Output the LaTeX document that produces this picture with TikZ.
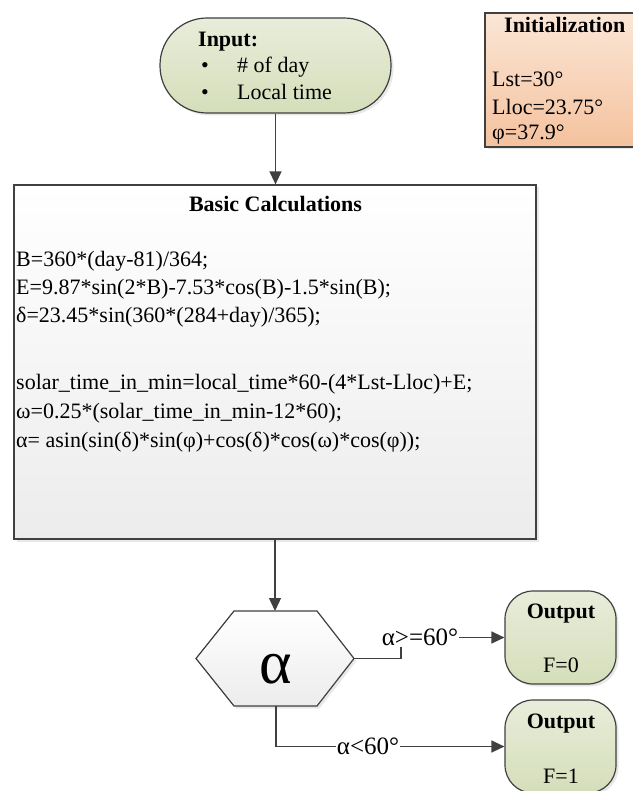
\documentclass[tikz,border=0pt]{standalone}
\usepackage{fontspec}
\setmainfont{Liberation Serif}
\usetikzlibrary{arrows.meta,shadows}
\definecolor{edge}{HTML}{404040}
\definecolor{greentop}{HTML}{E8EDDA}
\definecolor{greenbot}{HTML}{D5DEBA}
\definecolor{peachtop}{HTML}{FBE6D6}
\definecolor{peachbot}{HTML}{F4C29E}
\definecolor{graybot}{HTML}{ECECEC}
\tikzset{
  shapebox/.style={draw=edge, line width=1.2pt, inner sep=0pt,
    drop shadow={opacity=0.18, shadow xshift=2.5pt, shadow yshift=-2.5pt}},
  greenbox/.style={shapebox, top color=greentop, bottom color=greenbot},
  txt/.style={inner sep=0pt, font=\fontsize{22}{27}\selectfont, text=black},
  btxt/.style={inner sep=0pt, font=\fontsize{22}{27}\selectfont\bfseries, text=black},
  conn/.style={draw=edge, line width=1.3pt},
  arr/.style={conn, -{Triangle[length=13pt,width=12pt]}},
  lab/.style={inner sep=1pt, font=\fontsize{25}{30}\selectfont, fill=white, text=black},
}
\begin{document}
\begin{tikzpicture}[x=1pt,y=-1pt]
\useasboundingbox (0,0) rectangle (632,791);

% Input
\node[greenbox, rounded corners=47pt, minimum width=231pt, minimum height=95pt] (inp) at (275.5,65.5) {};
\node[btxt, anchor=base west] (inpT) at (198,47) {Input:};
\node[txt, anchor=base west] (b1) at (201,73) {•};
\node[txt, anchor=base west] (i1) at (237,73) {\# of day};
\node[txt, anchor=base west] (b2) at (201,100) {•};
\node[txt, anchor=base west] (i2) at (237,100) {Local time};

% Initialization
\node[shapebox, top color=peachtop, bottom color=peachbot, minimum width=180pt, minimum height=134pt] (init) at (575,80) {};
\node[btxt, anchor=base west] (initT) at (504,33) {Initialization};
\node[txt, anchor=base west] (n1) at (492,87) {Lst=30°};
\node[txt, anchor=base west] (n2) at (492,115) {Lloc=23.75°};
\node[txt, anchor=base west] (n3) at (492,140) {φ=37.9°};

% Basic calculations
\node[shapebox, top color=white, bottom color=graybot, minimum width=522pt, minimum height=354pt] (basic) at (275,362) {};
\node[btxt, anchor=base] (basT) at (275.5,212) {Basic Calculations};
\node[txt, anchor=base west] (c1) at (16,266) {B=360*(day-81)/364;};
\node[txt, anchor=base west] (c2) at (16,294) {E=9.87*sin(2*B)-7.53*cos(B)-1.5*sin(B);};
\node[txt, anchor=base west] (c3) at (16,322) {δ=23.45*sin(360*(284+day)/365);};
\node[txt, anchor=base west] (c4) at (16,389) {solar\_time\_in\_min=local\_time*60-(4*Lst-Lloc)+E;};
\node[txt, anchor=base west] (c5) at (16,418) {ω=0.25*(solar\_time\_in\_min-12*60);};
\node[txt, anchor=base west] (c6) at (16,447) {α= asin(sin(δ)*sin(φ)+cos(δ)*cos(ω)*cos(φ));};

% Decision hexagon
\coordinate (hexT) at (275,611);
\coordinate (hexR) at (354,658.5);
\coordinate (hexB) at (276,706);
\draw[conn, line width=1.2pt, top color=white, bottom color=graybot,
  drop shadow={opacity=0.18, shadow xshift=2.5pt, shadow yshift=-2.5pt}]
  (234,611) -- (317,611) -- (hexR) -- (317,706) -- (234,706) -- (196,658.5) -- cycle;
\node[inner sep=0pt, font=\fontsize{62}{62}\selectfont, anchor=base] (alpha) at (276,683) {α};

% Outputs
\node[greenbox, rounded corners=28pt, minimum width=111pt, minimum height=93pt] (out1) at (560.5,637.5) {};
\node[btxt, anchor=base] (o1T) at (561,618) {Output};
\node[txt, anchor=base] (o1V) at (561,672) {F=0};
\node[greenbox, rounded corners=28pt, minimum width=111pt, minimum height=93pt] (out2) at (560.5,746.5) {};
\node[btxt, anchor=base] (o2T) at (561,728) {Output};
\node[txt, anchor=base] (o2V) at (561,783) {F=1};

% Connectors
\draw[arr] (inp.south) -- (inp.south |- basic.north);
\draw[arr] (basic.south) -- (hexT);
\coordinate (k1) at (401,658.5);
\draw[arr] (hexR) -- (k1) |- (out1.west);
\node[lab] (l1) at (420,637.5) {α>=60°};
\draw[arr] (hexB) |- (out2.west);
\node[lab] (l2) at (368,746.5) {α<60°};
\end{tikzpicture}
\end{document}
